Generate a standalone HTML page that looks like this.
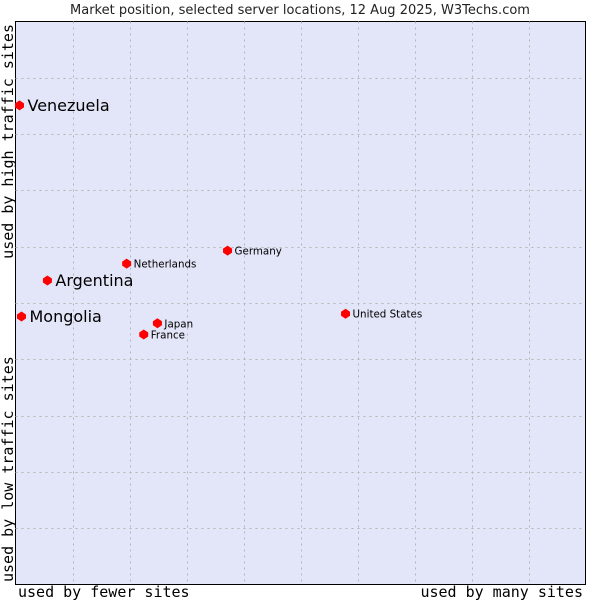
<!DOCTYPE html>
<html><head><meta charset="utf-8"><style>
body{margin:0;background:#fff;width:600px;height:600px;overflow:hidden}
svg{display:block;font-family:"DejaVu Sans",sans-serif}
</style></head><body>
<svg id="chart" width="600" height="600" xmlns="http://www.w3.org/2000/svg">
<text x="300" y="14" text-anchor="middle" font-size="13" fill="#222">Market position, selected server locations, 12 Aug 2025, W3Techs.com</text>
<rect x="15.5" y="21.5" width="570" height="563" fill="#e3e5f8" stroke="#000" stroke-width="1"/>
<g id="grid"></g>
<g id="points"></g>
<text x="18" y="597" font-family="DejaVu Sans Mono, monospace" font-size="15" fill="#000">used by fewer sites</text>
<text x="583" y="597" text-anchor="end" font-family="DejaVu Sans Mono, monospace" font-size="15" fill="#000">used by many sites</text>
<text transform="translate(13,24) rotate(-90)" text-anchor="end" font-family="DejaVu Sans Mono, monospace" font-size="15" fill="#000">used by high traffic sites</text>
<text transform="translate(13,582) rotate(-90)" font-family="DejaVu Sans Mono, monospace" font-size="15" fill="#000">used by low traffic sites</text>
</svg>
<script>
const names=["Venezuela","Argentina","Mongolia","Netherlands","Germany","Japan","France","United States"];
const xVals=[0.7,5.6,1.05,19.5,37.2,24.9,22.5,57.9];
const yVals=[85.1,54.0,47.6,57.0,59.3,46.4,44.4,48.1];
const big=[true,true,true,false,false,false,false,false];
const X0=15.5,X1=585.5,Y0=584.5,Y1=21.5;
const sx=v=>X0+(X1-X0)*v/100, sy=v=>Y0-(Y0-Y1)*v/100;
const NS="http://www.w3.org/2000/svg";
const grid=document.getElementById('grid');
for(let i=1;i<10;i++){
  const v=document.createElementNS(NS,'line');
  
  
  const x=Math.round(sx(i*10))+0.5;
  v.setAttribute('x1',x);v.setAttribute('x2',x);v.setAttribute('y1',Y1);v.setAttribute('y2',Y0);
  v.setAttribute('stroke','#b4b4b4');v.setAttribute('stroke-dasharray','2,4');
  grid.appendChild(v);
  const h=document.createElementNS(NS,'line');
  
  
  const y=Math.round(sy(i*10))+0.5;
  h.setAttribute('x1',X0);h.setAttribute('x2',X1);h.setAttribute('y1',y);h.setAttribute('y2',y);
  h.setAttribute('stroke','#b4b4b4');h.setAttribute('stroke-dasharray','2,4');
  grid.appendChild(h);
}
const pts=document.getElementById('points');
names.forEach((n,i)=>{
  const x=sx(xVals[i]),y=sy(yVals[i]);
  const d=document.createElementNS(NS,'polygon');
  
  
  d.setAttribute('points',`${x},${y-5} ${x+4.5},${y-2} ${x+4.5},${y+2} ${x},${y+5} ${x-4.5},${y+2} ${x-4.5},${y-2}`);
  d.setAttribute('fill','#f00');
  pts.appendChild(d);
  const t=document.createElementNS(NS,'text');
  
  
  t.setAttribute('x',x+(big[i]?8:7));
  t.setAttribute('y',y+(big[i]?5.5:4));
  t.setAttribute('font-size',big[i]?'16':'10.3');
  t.setAttribute('fill','#000');
  t.textContent=n;
  pts.appendChild(t);
});
</script>
</body></html>
